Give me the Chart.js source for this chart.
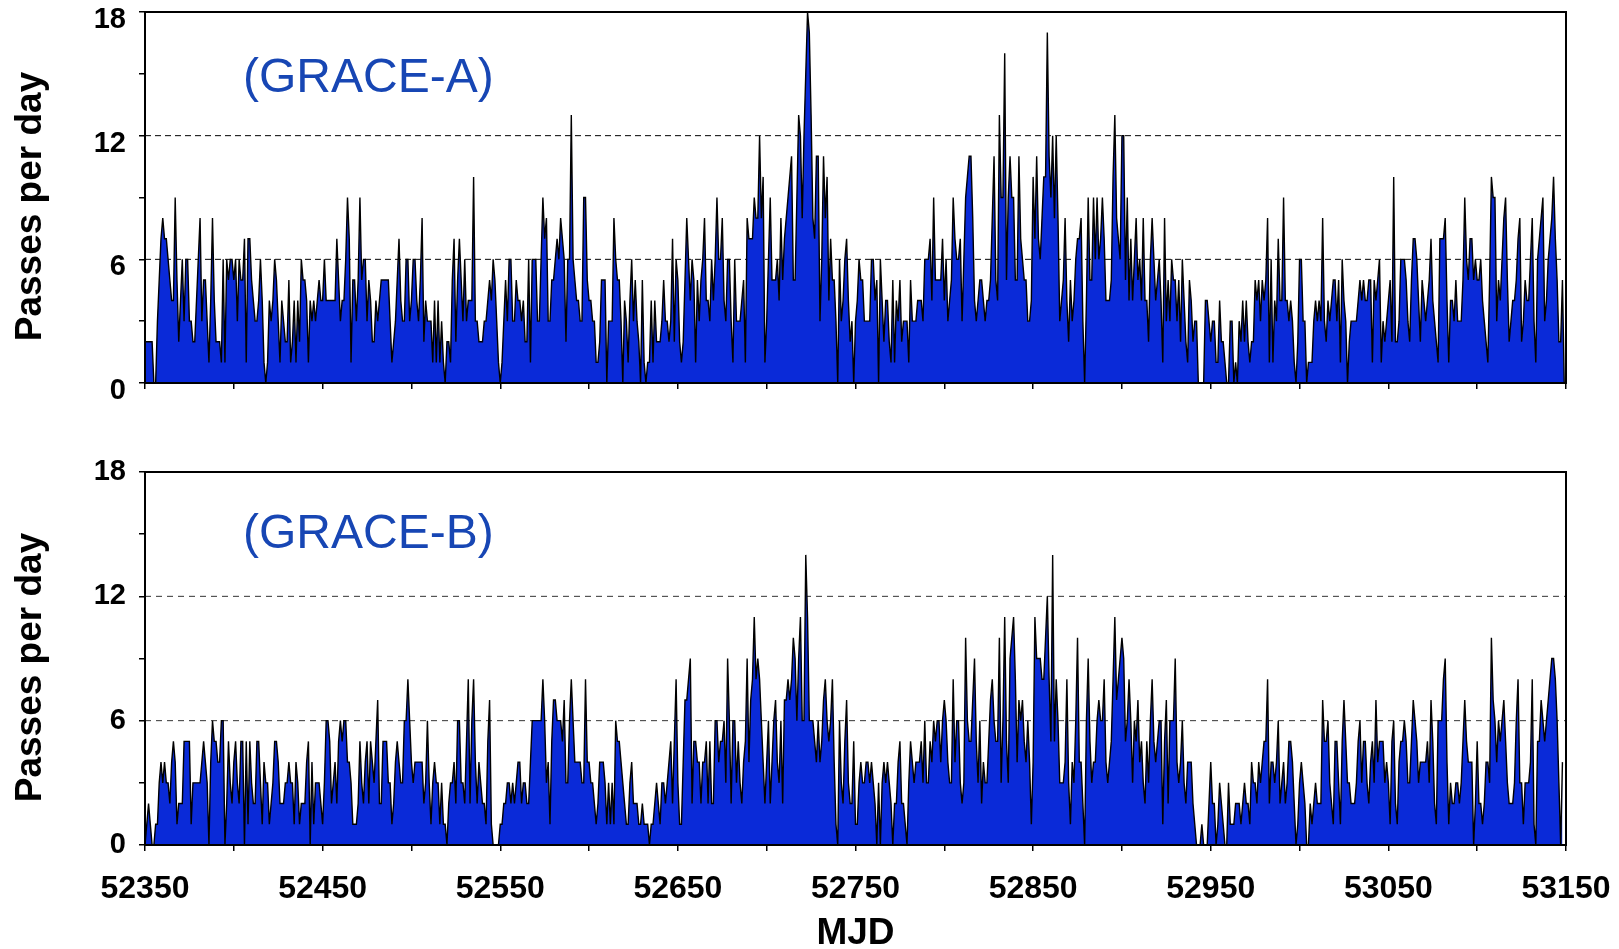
<!DOCTYPE html>
<html>
<head>
<meta charset="utf-8">
<title>GRACE passes per day</title>
<script src="https://cdn.jsdelivr.net/npm/chart.js@4.4.3/dist/chart.umd.min.js"></script>
<style>
  html, body { margin: 0; padding: 0; background: #fff; }
  #wrap { position: relative; width: 1619px; height: 949px; overflow: hidden; }
  canvas { position: absolute; left: 0; }
  #chartA { top: 0; }
  #chartB { top: 440px; }
</style>
</head>
<body>
<div id="wrap">
  <canvas id="chartA" width="1619" height="440"></canvas>
  <canvas id="chartB" width="1619" height="509"></canvas>
</div>
<script>
// 일별 통과 횟수, MJD 52350 부터 하루 간격
const MJD_START = 52350;
const MJD_END = 53150;
const xLabelStep = 100;     // 라벨은 100일마다, 눈금은 50일마다
const refLevels = [6, 12];  // 점선 기준선
const labelA = '(GRACE-A)';
const labelB = '(GRACE-B)';
const yTitle = 'Passes per day';

// GRACE-A, 100일 단위
const a52350 = [
  2,2,2,2,2,0,0,3,5,7, 8,7,7,6,5,4,4,9,5,2, 4,6,3,6,6,3,3,2,2,4, 6,8,3,5,5,3,1,4,8,4,
  2,2,2,1,6,1,6,5,6,6, 5,6,3,6,5,5,7,1,7,7, 5,4,3,3,4,6,4,1,0,1, 4,3,4,6,5,3,1,4,3,2,
  2,5,1,2,4,1,4,2,6,5, 5,4,1,4,3,4,3,4,5,4];
const a52450 = [
  4,6,4,4,4,4,4,4,7,5, 3,4,4,6,9,7,1,5,5,3, 5,9,5,6,6,3,5,4,2,2, 4,3,4,5,5,5,5,5,3,1,
  2,3,5,7,4,3,3,6,6,3, 4,6,6,4,3,5,8,2,4,3, 3,3,1,4,1,4,1,3,1,0, 2,2,1,5,7,2,5,7,5,3,
  6,3,4,4,4,10,3,3,2,2, 2,3,3,4,5,4,6,5,3,1];
const a52550 = [
  0,1,3,5,3,6,6,3,3,5, 4,4,3,4,2,2,6,1,6,6, 6,3,3,6,9,7,8,3,3,5, 5,6,7,6,8,7,6,2,6,6,
  13,6,5,4,4,3,3,9,9,5, 4,4,3,3,1,1,2,5,5,5, 0,3,3,3,8,6,5,5,3,0, 4,3,1,4,6,3,5,3,2,0,
  5,1,0,1,1,4,1,4,2,2, 2,3,5,3,3,2,3,7,2,6];
const a52650 = [
  5,2,1,2,5,8,6,4,6,5, 1,5,3,5,6,8,4,4,3,6, 4,6,9,6,6,8,4,3,6,6, 3,1,6,3,3,3,4,5,1,8,
  7,7,7,9,8,8,12,8,10,1, 3,6,9,5,5,5,6,4,8,5, 7,8,9,10,11,5,5,9,13,12, 8,12,15,18,17,13,8,7,11,11,
  3,6,11,8,10,4,7,5,5,3, 0,6,3,4,6,7,4,2,3,0];
const a52750 = [
  3,4,6,5,5,3,3,3,3,6, 6,4,5,0,6,4,2,4,4,2, 1,5,1,4,3,5,2,3,3,3, 1,5,3,3,3,4,4,4,3,6,
  6,6,7,4,9,5,5,5,5,7, 4,6,3,4,5,9,7,6,6,7, 3,6,9,10,11,11,8,4,3,4, 5,5,4,3,4,4,5,8,11,5,
  4,13,9,9,16,5,9,11,9,9, 5,5,11,7,6,5,5,3,3,4];
const a52850 = [
  10,7,11,7,6,8,10,10,17,11, 9,12,8,12,8,3,4,5,8,4, 2,5,3,4,6,7,7,8,3,0, 4,9,5,5,9,6,9,6,7,9,
  7,4,4,4,5,10,13,8,7,6, 12,12,5,9,4,7,4,6,8,5, 6,4,8,4,4,2,6,8,6,4, 5,6,4,1,8,3,5,3,6,5,
  5,3,5,2,6,4,2,1,5,4, 2,3,3,0,0,0,0,4,4,3];
const a52950 = [
  2,3,3,1,1,4,2,2,1,0, 0,3,3,0,1,0,3,2,4,2, 4,2,1,2,2,5,4,5,3,5, 4,5,8,1,6,1,4,3,7,4,
  4,9,4,4,3,4,3,1,0,2, 6,6,3,3,0,1,1,1,3,4, 3,4,3,8,3,2,4,3,4,5, 5,3,5,1,6,4,3,0,2,3,
  3,3,3,4,5,4,5,4,4,5, 5,1,5,4,5,6,1,3,2,3];
const a53050 = [
  4,5,2,10,2,2,3,6,6,6, 5,3,2,5,7,7,6,4,2,5, 4,3,4,5,7,4,3,2,1,7, 7,7,8,4,1,4,4,3,5,3,
  3,3,5,9,6,5,7,7,5,6, 5,5,6,4,3,2,1,5,10,9, 9,3,5,4,6,8,9,5,2,3, 4,4,5,7,8,2,3,5,4,4,
  6,8,3,1,6,7,8,9,3,4, 6,7,8,10,7,5,2,2,5,0];

// GRACE-B, 100일 단위
const b52350 = [
  0,1,2,1,0,0,1,1,3,4, 3,4,3,3,2,4,5,4,1,2, 2,2,5,5,5,5,1,3,3,3, 3,3,4,5,4,3,0,4,6,5,
  5,4,4,6,6,0,2,5,3,2, 4,5,3,2,5,5,0,5,1,5, 3,2,2,5,5,3,1,4,3,3, 1,2,3,5,5,4,2,2,2,3,
  3,4,3,3,1,4,3,1,2,2, 2,4,5,0,4,1,3,3,3,2];
const b52450 = [
  1,3,6,6,5,2,3,4,2,5, 6,5,6,6,4,4,3,1,1,1, 2,5,3,2,4,5,2,5,4,3, 5,7,2,2,5,5,5,3,3,1,
  2,4,5,4,3,3,6,6,8,6, 4,3,4,4,4,4,4,2,3,6, 3,1,3,4,3,3,1,3,1,1, 0,2,3,3,4,2,6,6,3,3,
  2,5,8,2,6,8,4,2,4,3, 2,2,1,5,7,1,0,0,0,0];
const b52550 = [
  1,1,2,2,3,3,2,3,2,3, 4,4,2,3,3,2,2,4,6,6, 6,6,6,6,8,6,3,4,1,5, 7,7,6,6,6,5,7,3,3,6,
  8,6,4,4,4,4,3,3,8,4, 4,3,3,2,1,2,4,4,4,3, 1,3,1,3,1,6,5,5,4,3, 2,1,1,3,4,2,2,2,1,1,
  2,1,1,1,0,1,1,2,3,2, 1,3,3,2,3,4,5,2,5,8];
const b52650 = [
  3,1,1,4,7,7,8,9,2,5, 5,4,4,2,4,4,5,2,5,2, 2,6,6,4,5,5,6,3,9,6, 2,6,6,3,5,3,2,4,5,9,
  4,7,8,11,8,9,8,6,4,2, 4,6,2,4,6,7,4,3,6,2, 7,7,8,7,8,10,9,6,9,11, 6,6,14,11,6,6,6,5,4,6,
  4,5,7,8,6,5,6,8,4,1, 0,6,3,2,5,7,3,2,2,5];
const b52750 = [
  1,1,3,4,3,3,4,4,3,4, 3,2,0,3,0,3,4,3,4,3, 2,0,2,2,4,5,2,2,1,0, 3,5,4,3,4,4,4,5,3,6,
  3,3,5,4,6,5,6,6,4,6, 7,6,4,3,3,8,4,6,6,3, 2,3,10,6,5,5,7,9,5,3, 6,2,4,3,3,5,7,8,6,5,
  5,10,3,6,11,5,3,9,10,11, 8,4,7,6,7,5,4,6,4,1];
const b52850 = [
  4,11,9,9,9,8,8,10,12,8, 5,14,5,8,6,3,3,3,4,8, 3,1,4,3,6,10,4,4,2,0, 6,9,5,3,4,4,6,7,6,6,
  8,4,3,4,5,8,11,7,8,9, 10,9,5,6,8,6,3,6,5,7, 4,5,3,2,5,3,6,8,5,4, 5,6,6,1,5,7,2,6,6,6,
  9,4,3,4,6,3,2,4,4,4, 2,1,0,0,0,1,0,0,0,2];
const b52950 = [
  4,2,2,0,1,3,2,1,0,0, 3,1,1,1,2,2,2,1,2,3, 2,2,1,4,3,3,2,4,3,4, 5,5,8,2,4,4,3,4,6,2,
  3,4,2,3,5,5,4,2,0,1, 3,4,3,2,0,0,2,1,2,3, 2,2,2,7,5,5,6,3,2,1, 5,5,3,1,5,7,5,3,3,2,
  2,2,3,5,6,3,5,5,3,2, 4,5,3,7,4,5,5,5,3,4];
const b53050 = [
  3,1,5,6,2,1,4,5,5,6, 5,3,3,5,7,6,5,3,4,4, 4,4,5,3,7,5,2,1,6,6, 6,8,9,4,1,3,2,2,3,3,
  2,3,5,7,5,4,4,4,0,2, 5,2,2,1,2,4,4,3,10,7, 6,4,6,5,6,7,5,3,2,2, 2,3,6,8,3,3,1,3,3,3,
  4,8,1,0,5,5,7,6,5,6, 7,8,9,9,8,6,3,0,4];

const passesA = [].concat(a52350, a52450, a52550, a52650, a52750, a52850, a52950, a53050);
const passesB = [].concat(b52350, b52450, b52550, b52650, b52750, b52850, b52950, b53050);

const FONT = '"Liberation Sans", Arial, Helvetica, sans-serif';
const FILL = '#0a2ad8';

const toPoints = arr => arr.map((v, i) => ({ x: MJD_START + i, y: v }));

// 테두리 + 위성 이름 + 세로축 제목 (원본처럼 약간 아래로)
const framePlugin = {
  id: 'frame',
  afterDatasetsDraw(chart, args, opts) {
    const { ctx, chartArea: a } = chart;
    ctx.save();
    ctx.strokeStyle = '#000';
    ctx.lineWidth = 2;
    ctx.strokeRect(a.left, a.top, a.right - a.left, a.bottom - a.top);
    ctx.fillStyle = '#1746b4';
    ctx.font = '48px ' + FONT;
    ctx.textBaseline = 'alphabetic';
    ctx.fillText(opts.text, a.left + 98, a.top + opts.dy);

    ctx.translate(31, (a.top + a.bottom) / 2 + 9);
    ctx.rotate(-Math.PI / 2);
    ctx.fillStyle = '#000';
    ctx.font = 'bold 37px ' + FONT;
    ctx.textAlign = 'center';
    ctx.textBaseline = 'middle';
    ctx.fillText(yTitle, 0, 0);
    ctx.restore();
  }
};

function makeChart(id, values, label, bottom) {
  const refSets = refLevels.map(lv => ({
    data: [{ x: MJD_START, y: lv }, { x: MJD_END, y: lv }],
    borderColor: bottom ? '#333' : '#000',
    borderWidth: 1,
    borderDash: bottom ? [6, 5] : [6, 4],
    pointRadius: 0,
    fill: false,
    order: 2
  }));

  return new Chart(document.getElementById(id), {
    type: 'line',
    data: {
      datasets: [{
        data: toPoints(values),
        borderColor: '#000',
        borderWidth: 1.4,
        backgroundColor: FILL,
        fill: 'origin',
        pointRadius: 0,
        tension: 0,
        order: 1
      }, ...refSets]
    },
    options: {
      responsive: false,
      animation: false,
      events: [],
      layout: {
        padding: bottom
          ? { top: 32, right: 53, bottom: 0, left: 0 }
          : { top: 12, right: 53, bottom: 37, left: 0 }
      },
      plugins: {
        legend: { display: false },
        tooltip: { enabled: false },
        frame: { text: label, dy: bottom ? 76 : 80 }
      },
      scales: {
        x: {
          type: 'linear',
          min: MJD_START,
          max: MJD_END,
          // 라벨이 넘쳐도 그림 영역은 고정
          afterFit: s => { s.height = bottom ? 104 : 20; s.paddingLeft = 0; s.paddingRight = 0; },
          grid: { display: true, drawOnChartArea: false, drawTicks: true, tickLength: 6, color: '#000', lineWidth: 1.5 },
          border: { display: true, color: '#000', width: 2 },
          ticks: {
            stepSize: 50,
            autoSkip: false,
            maxRotation: 0,
            padding: 19,
            color: '#000',
            font: { family: FONT, size: 32, weight: 'bold' },
            callback: v => (bottom && (v - MJD_START) % xLabelStep === 0) ? String(v) : ''
          },
          title: {
            display: bottom,
            text: 'MJD',
            color: '#000',
            font: { family: FONT, size: 37, weight: 'bold', lineHeight: 1 },
            padding: { top: 0, bottom: -3 }
          }
        },
        y: {
          min: 0,
          max: 18,
          afterFit: s => { s.width = 145; s.paddingTop = 0; s.paddingBottom = 0; },
          grid: { display: true, drawOnChartArea: false, drawTicks: true, tickLength: 6, color: '#000', lineWidth: 1.5 },
          border: { display: true, color: '#000', width: 2 },
          ticks: {
            stepSize: 3,
            padding: 13,
            labelOffset: bottom ? 0 : 8,
            color: '#000',
            font: { family: FONT, size: 29, weight: 'bold' },
            callback: v => (v % 6 === 0 ? String(v) : '')
          },
          title: { display: false }
        }
      }
    },
    plugins: [framePlugin]
  });
}

makeChart('chartA', passesA, labelA, false);
makeChart('chartB', passesB, labelB, true);
</script>
</body>
</html>
